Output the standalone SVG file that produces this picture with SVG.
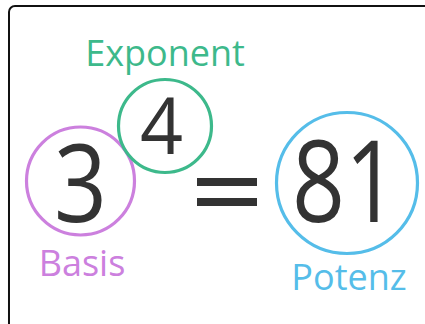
<svg xmlns="http://www.w3.org/2000/svg" width="425" height="324" viewBox="0 0 425 324">
<style>
.n{font-family:"Open Sans","Noto Sans","Liberation Sans",sans-serif;fill:#333}
.l{font-family:"Open Sans","Noto Sans","Liberation Sans",sans-serif;font-size:36px}
.c{fill:none;stroke-width:3.2}
</style>
<rect x="9" y="6" width="430" height="330" rx="6" fill="#fff" stroke="#111" stroke-width="2"/>
<g id="basis">
<circle class="c" cx="80.5" cy="181" r="54" stroke="#cc80de"/>
<text class="n" x="54" y="222" font-size="108" textLength="53" lengthAdjust="spacingAndGlyphs">3</text>
<text class="l" x="82" y="276" text-anchor="middle" fill="#cc80de" font-size="35">Basis</text>
</g>
<g id="exponent">
<circle class="c" cx="165" cy="126" r="46.5" stroke="#3db98b"/>
<text class="n" x="140" y="154" font-size="79" textLength="43" lengthAdjust="spacingAndGlyphs">4</text>
<text class="l" x="165" y="66" text-anchor="middle" fill="#3db98b">Exponent</text>
</g>
<g id="equals">
<rect x="197" y="178" width="60" height="8" fill="#333"/>
<rect x="197" y="198" width="60" height="8" fill="#333"/>
</g>
<g id="potenz">
<circle class="c" cx="347" cy="183" r="70.5" stroke="#55bde9"/>
<text class="n" x="292" y="222" font-size="114" textLength="106" lengthAdjust="spacingAndGlyphs">81</text>
<text class="l" x="349" y="290" text-anchor="middle" fill="#55bde9">Potenz</text>
</g>
<g id="connectors"/>
</svg>
